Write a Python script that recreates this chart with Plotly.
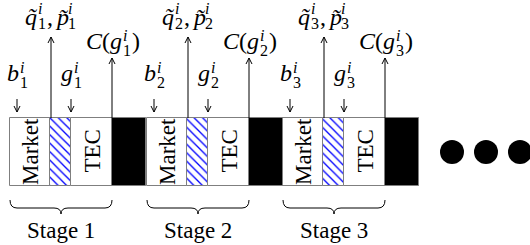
import plotly.graph_objects as go

# ---------------- data ----------------
STAGE_LABELS = ["Stage 1", "Stage 2", "Stage 3"]
STAGE_INDEX = ["1", "2", "3"]
AGENT = "i"
BLOCK_NAMES = ["Market", "", "TEC", ""]
ELLIPSIS_DOTS = [0, 1, 2]

# ---------------- geometry / style ----------------
STAGE_X0 = [10, 147, 283]
SEG_EDGES = [0, 40, 61, 102, 136]       # relative edges of Market | hatch | TEC | black
STRIP_TOP, STRIP_H = 118, 68
FONT = "Liberation Serif"
TEXT = 23
MAIN, SCR = 24, 16
GRAY = "#7f7f7f"

fig = go.Figure()

# blocks as bars
seg_styles = [
    dict(color="white"),
    dict(color="white", pattern=dict(shape="\\", fgcolor="#0000ff", bgcolor="white",
                                     size=6, solidity=0.22, fgopacity=1)),
    dict(color="white"),
    dict(color="black"),
]
for s, style in enumerate(seg_styles):
    xs = [x0 + (SEG_EDGES[s] + SEG_EDGES[s + 1]) / 2 for x0 in STAGE_X0]
    w = SEG_EDGES[s + 1] - SEG_EDGES[s]
    fig.add_trace(go.Bar(
        x=xs, y=[STRIP_H] * len(xs), base=[STRIP_TOP] * len(xs), width=[w] * len(xs),
        marker=dict(line=dict(color=GRAY, width=1), **style),
        hoverinfo="skip", showlegend=False,
    ))

# ellipsis dots
fig.add_trace(go.Scatter(
    x=[452 + 34 * d for d in ELLIPSIS_DOTS], y=[152] * len(ELLIPSIS_DOTS),
    mode="markers", marker=dict(size=24, color="black"),
    hoverinfo="skip", showlegend=False,
))

annotations = []
shapes = []


def txt(x, y, text, size, xanchor="left", angle=0):
    annotations.append(dict(
        x=x, y=y, xref="x", yref="y", text=text, showarrow=False,
        xanchor=xanchor, yanchor="middle", textangle=angle, borderpad=0,
        font=dict(family=FONT, size=size, color="black"),
    ))


def math(xc, baseline, pieces, sup_dy=-8, sub_dy=7):
    widths = []
    for p in pieces:
        if p[0] == "t":
            widths.append(p[2] * MAIN)
        else:
            widths.append(0.5 * SCR + 2)
    total = sum(widths)
    x = xc - total / 2
    for p, w in zip(pieces, widths):
        if p[0] == "t":
            txt(x, baseline - 0.34 * MAIN, p[1], MAIN)
        else:
            txt(x + 1, baseline + sup_dy - 0.34 * SCR, "<i>%s</i>" % p[1], SCR)
            txt(x + 1, baseline + sub_dy - 0.34 * SCR, p[2], SCR)
        x += w


def arrow(x, y_tail, y_head):
    shapes.append(dict(type="line", xref="x", yref="y", x0=x, x1=x, y0=y_tail, y1=y_head,
                       line=dict(color="black", width=1)))
    d = 6 if y_head > y_tail else -6
    shapes.append(dict(type="path", xref="x", yref="y",
                       path="M %f,%f L %f,%f L %f,%f" % (x - 3, y_head - d, x, y_head, x + 3, y_head - d),
                       line=dict(color="black", width=1)))


for k, x0 in enumerate(STAGE_X0):
    n = STAGE_INDEX[k]
    # rotated block names
    txt(x0 + 20, 152, BLOCK_NAMES[0], TEXT, xanchor="center", angle=-90)
    txt(x0 + 81.5, 151, BLOCK_NAMES[2], TEXT, xanchor="center", angle=-90)
    # arrows
    arrow(x0 + 7, 99, 112)
    arrow(x0 + 61, 99, 112)
    arrow(x0 + 41, STRIP_TOP, 37)
    arrow(x0 + 102, STRIP_TOP, 58)
    # labels
    math(x0 + 7, 81, [("t", "<i>b</i>", 0.5), ("s", AGENT, n)])
    math(x0 + 61, 81, [("t", "<i>g</i>", 0.5), ("s", AGENT, n)])
    math(x0 + 40, 25, [("t", "<i>q\u0303</i>", 0.5), ("s", AGENT, n), ("t", ",", 0.32),
                       ("t", "<i>p\u0303</i>", 0.5), ("s", AGENT, n)], sup_dy=-11, sub_dy=4)
    math(x0 + 102, 49, [("t", "<i>C</i>", 0.667), ("t", "(", 0.333), ("t", "<i>g</i>", 0.5),
                        ("s", AGENT, n), ("t", ")", 0.333)])
    # brace
    xa, xb = x0, x0 + 102
    xm = (xa + xb) / 2
    y0, y1, y2 = 200, 208, 214
    r = 7
    shapes.append(dict(type="path", xref="x", yref="y", line=dict(color="black", width=1),
                       path=("M %f,%f Q %f,%f %f,%f L %f,%f Q %f,%f %f,%f Q %f,%f %f,%f L %f,%f Q %f,%f %f,%f"
                             % (xa, y0, xa, y1, xa + r, y1, xm - r, y1, xm, y1, xm, y2,
                                xm, y1, xm + r, y1, xb - r, y1, xb, y1, xb, y0))))
    txt(xm, 238 - 0.34 * TEXT, STAGE_LABELS[k], TEXT, xanchor="center")

fig.update_layout(
    width=530, height=245, margin=dict(l=0, r=0, t=0, b=0),
    paper_bgcolor="white", plot_bgcolor="white",
    barmode="overlay", bargap=0,
    xaxis=dict(range=[0, 530], visible=False, fixedrange=True),
    yaxis=dict(range=[245, 0], autorange=False, visible=False, fixedrange=True),
    annotations=annotations, shapes=shapes,
)
fig.write_html("out.html", config={"displayModeBar": False},
               post_script="document.body.style.margin='0';")
